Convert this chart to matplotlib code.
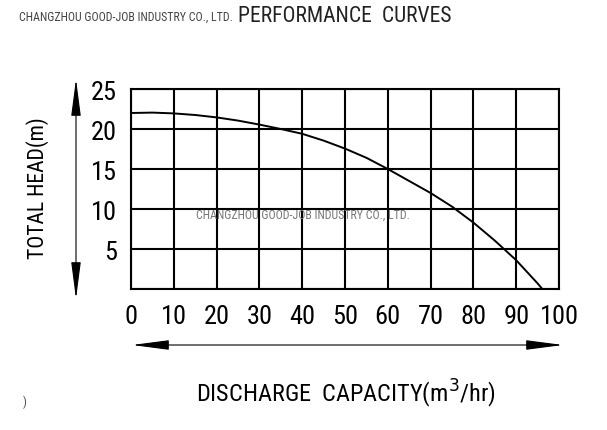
import matplotlib
matplotlib.use('Agg')
from matplotlib import pyplot as plt
from matplotlib.patches import FancyArrowPatch

# values
flow = [0, 5, 10, 15, 20, 25, 30, 35, 40, 45, 50, 55, 60, 65, 70, 75, 80, 85, 90, 95, 96.1]
head = [22.0, 22.05, 21.95, 21.75, 21.45, 21.05, 20.55, 20.0, 19.4, 18.55, 17.55,
        16.4, 15.0, 13.5, 12.0, 10.3, 8.3, 6.05, 3.6, 0.7, 0.0]
x_ticks = [0, 10, 20, 30, 40, 50, 60, 70, 80, 90, 100]
y_ticks = [5, 10, 15, 20, 25]
company = 'CHANGZHOU GOOD-JOB INDUSTRY CO., LTD.'

plt.rcParams['font.family'] = ['Roboto Condensed', 'DejaVu Sans']

W, H = 607, 431
fig = plt.figure(figsize=(W / 100, H / 100), dpi=100)
ax = fig.add_axes([131 / W, 141 / H, 428 / W, 200 / H])

ax.plot(flow, head, color='black', lw=1.4)

ax.set_xlim(0, 100)
ax.set_ylim(0, 25)
ax.set_xticks(x_ticks)
ax.set_yticks([0] + y_ticks)
ax.grid(True, color='black', lw=1.5)
for s in ax.spines.values():
    s.set_linewidth(1.5)
ax.tick_params(length=0, labelsize=19)
ax.tick_params(axis='x', pad=11)
ax.tick_params(axis='y', pad=10)
ax.set_yticklabels([''] + [str(v) for v in y_ticks])
ax.set_xticklabels([str(v) for v in x_ticks])

# watermark inside the grid
fig.text(302.5 / W, 1 - 215 / H, company,
         ha='center', va='center', fontsize=8.6, color='#777777')

# header
fig.text(19 / W, 1 - 17.5 / H, company, fontsize=8.6,
         ha='left', va='center', color='#444444')
fig.text(238 / W, 1 - 16 / H, 'PERFORMANCE  CURVES', fontsize=15.6,
         ha='left', va='center', color='#222222')

fig.text(37.5 / W, 1 - 188.5 / H, 'TOTAL HEAD(m)', rotation=90, fontsize=15.6,
         ha='center', va='center')
fig.text(346 / W, 1 - 394 / H, 'DISCHARGE  CAPACITY(m$^3$/hr)', fontsize=17.5,
         ha='center', va='center')
fig.text(25 / W, 1 - 402 / H, ')', fontsize=9, ha='center', va='center', color='#555555')

astyle = '<|-|>,head_length=23,head_width=3'
v_arrow = FancyArrowPatch((76 / W, 1 - 300 / H), (76 / W, 1 - 80 / H),
                          transform=fig.transFigure, arrowstyle=astyle,
                          color='black', lw=0.8, shrinkA=0, shrinkB=0)
h_arrow = FancyArrowPatch((132 / W, 1 - 346 / H), (563 / W, 1 - 346 / H),
                          transform=fig.transFigure, arrowstyle=astyle,
                          color='black', lw=0.8, shrinkA=0, shrinkB=0)
fig.patches.extend([v_arrow, h_arrow])

plt.savefig('out.png', dpi=100)
